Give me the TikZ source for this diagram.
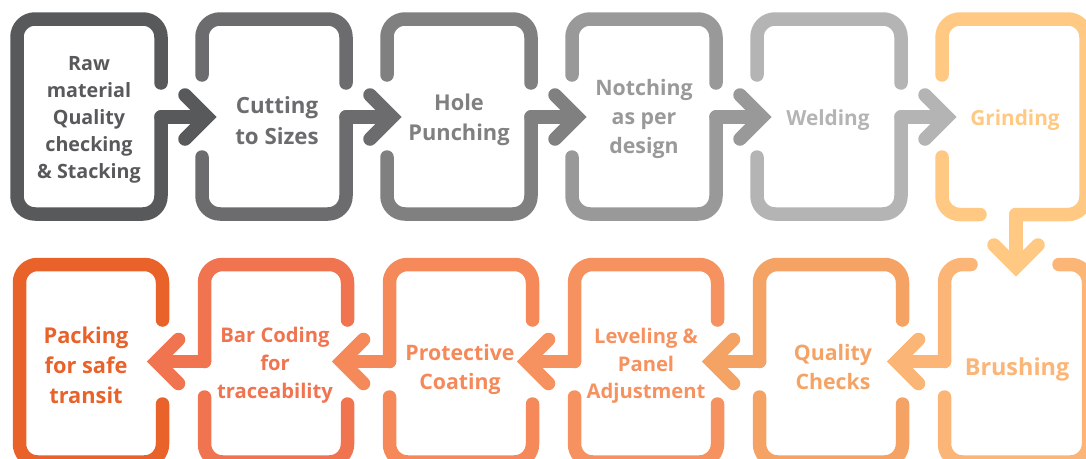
\documentclass[tikz,border=0pt]{standalone}
\usepackage{fontspec}
\setmainfont{Open Sans}
\definecolor{cA}{HTML}{58595B}
\definecolor{cB}{HTML}{6C6C6E}
\definecolor{cC}{HTML}{808080}
\definecolor{cD}{HTML}{999999}
\definecolor{cE}{HTML}{B4B4B4}
\definecolor{cF}{HTML}{FFC983}
\definecolor{cG}{HTML}{FBB576}
\definecolor{cH}{HTML}{F5A365}
\definecolor{cI}{HTML}{F6925F}
\definecolor{cJ}{HTML}{F5895A}
\definecolor{cK}{HTML}{EF744F}
\definecolor{cL}{HTML}{E8622A}
\tikzset{
  band/.style={line width=13.5pt, line cap=round, line join=round},
  rband/.style={band, rounded corners=18pt},
  chev/.style={line width=13.5pt, line cap=round, line join=miter},
  lbl/.style 2 args={font=\bfseries\fontsize{#1}{#2}\selectfont, align=center, inner sep=0pt},
}
\begin{document}
\begin{tikzpicture}[x=1pt,y=-1pt]
\useasboundingbox (0,0) rectangle (1086,458);
\clip (0,0) rectangle (1086,458);

% ---------- top row ----------
% box 0
\draw[rband,cA] (161,83) -- (161,19) -- (17,19) -- (17,214) -- (161,214) -- (161,117);
\draw[band,cA] (161,117) -- (205,117);
\draw[chev,cA] (185,95) -- (207,117) -- (185,139);
% boxes 1..4
\foreach \i/\col in {1/cB,2/cC,3/cD,4/cE}{
  \pgfmathsetmacro\L{17+185*\i}
  \pgfmathsetmacro\R{\L+144}
  \pgfmathsetmacro\tip{\R+46}
  \pgfmathsetmacro\arm{\tip-22}
  \pgfmathsetmacro\se{\tip-2}
  \draw[rband,\col] (\L,75) -- (\L,19) -- (\R,19) -- (\R,83);
  \draw[rband,\col] (\L,157) -- (\L,214) -- (\R,214) -- (\R,117);
  \draw[band,\col] (\R,117) -- (\se,117);
  \draw[chev,\col] (\arm,95) -- (\tip,117) -- (\arm,139);
}
% box 5
\draw[rband,cF] (942,75) -- (942,19) -- (1086,19) -- (1086,214.5) -- (1016,214.5);
\draw[rband,cF] (942,157) -- (942,214.5) -- (980,214.5);
\draw[band,cF] (1016,214.5) -- (1016,265);
\draw[chev,cF] (994,245) -- (1016,267) -- (1038,245);

% ---------- bottom row ----------
% Brushing
\draw[rband,cG] (971,264.5) -- (944.5,264.5) -- (944.5,361.5);
\draw[band,cG] (944.5,361.5) -- (898.5,361.5);
\draw[chev,cG] (918.5,339.5) -- (896.5,361.5) -- (918.5,383.5);
\draw[rband,cG] (944.5,397) -- (944.5,462) -- (1088.5,462) -- (1088.5,264.5) -- (1059,264.5);
% boxes 4..1
\foreach \j/\col in {4/cH,3/cI,2/cJ,1/cK}{
  \pgfmathsetmacro\L{19.5+185*\j}
  \pgfmathsetmacro\R{\L+143}
  \pgfmathsetmacro\tip{\L-48}
  \pgfmathsetmacro\arm{\tip+22}
  \pgfmathsetmacro\se{\tip+2}
  \draw[rband,\col] (\R,320) -- (\R,264.5) -- (\L,264.5) -- (\L,361.5);
  \draw[band,\col] (\L,361.5) -- (\se,361.5);
  \draw[chev,\col] (\arm,339.5) -- (\tip,361.5) -- (\arm,383.5);
  \draw[rband,\col] (\L,397) -- (\L,462) -- (\R,462) -- (\R,404);
}
% Packing
\draw[rband,cL] (162.5,320) -- (162.5,264.5) -- (19.5,264.5) -- (19.5,462) -- (162.5,462) -- (162.5,404);

% ---------- labels ----------
\node[lbl={19.7}{27},cA] (t1) at (89,119.5) {Raw\\material\\Quality\\checking\\\& Stacking};
\node[lbl={22.3}{31},cB] (t2) at (277,120.5) {Cutting\\to Sizes};
\node[lbl={21.8}{30},cC] (t3) at (459,119.5) {Hole\\Punching};
\node[lbl={21.3}{29},cD] (t4) at (644,119) {Notching\\as per\\design};
\node[lbl={20.8}{29},cE] (t5) at (828,120) {Welding};
\node[lbl={20.8}{29},cF] (t6) at (1015,120) {Grinding};
\node[lbl={23.4}{30},cG] (t7) at (1017,369.5) {Brushing};
\node[lbl={21.3}{29},cH] (t8) at (833,367.5) {Quality\\Checks};
\node[lbl={20.2}{27.5},cI] (t9) at (646,366) {Leveling \&\\Panel\\Adjustment};
\node[lbl={21.3}{29},cJ] (t10) at (460,369) {Protective\\Coating};
\node[lbl={20.2}{28},cK] (t11) at (275,365) {Bar Coding\\for\\traceability};
\node[lbl={21.8}{30},cL] (t12) at (86,365) {Packing\\for safe\\transit};
\end{tikzpicture}
\end{document}
